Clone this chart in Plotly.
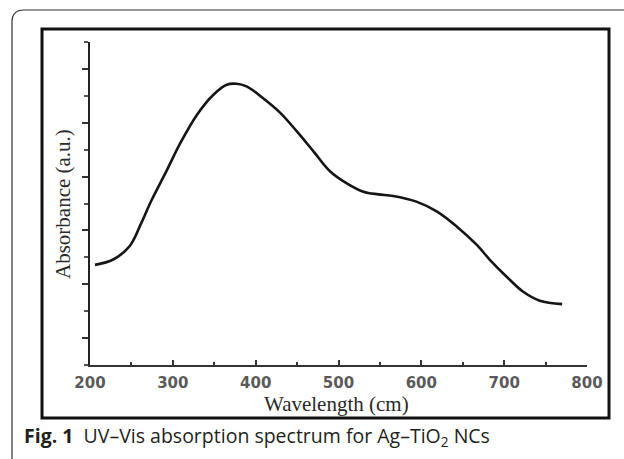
import plotly.graph_objects as go

# UV-Vis absorption spectrum of Ag-TiO2 nanocomposites (arbitrary absorbance units)
wavelength = [206, 228, 248, 262, 274, 293, 309, 329, 349, 365, 377, 389, 409, 430,
              450, 470, 490, 510, 530, 548, 566, 594, 619, 643, 667, 683, 703, 723,
              743, 770]
absorbance = [3.72, 3.92, 4.42, 5.28, 6.10, 7.25, 8.24, 9.29, 10.04, 10.41, 10.45,
              10.35, 9.91, 9.36, 8.67, 7.93, 7.19, 6.75, 6.44, 6.34, 6.28, 6.07,
              5.70, 5.14, 4.46, 3.90, 3.28, 2.72, 2.39, 2.26]

x_ticks = [200, 300, 400, 500, 600, 700, 800]

W, H = 624, 459
L, R, T, B = 90, 37, 42, 94
pw, ph = W - L - R, H - T - B


def px(x):
    return (x - L) / pw


def py(y):
    return (H - B - y) / ph


fig = go.Figure()
fig.add_trace(go.Scatter(
    x=wavelength, y=absorbance, mode="lines",
    line=dict(color="#151515", width=2.6, shape="spline", smoothing=1.0),
    hoverinfo="skip", showlegend=False,
))

fig.update_layout(
    width=W, height=H,
    margin=dict(l=L, r=R, t=T, b=B),
    paper_bgcolor="white", plot_bgcolor="white",
    xaxis=dict(
        range=[200, 800], tickvals=x_ticks, ticktext=[str(v) for v in x_ticks],
        showgrid=False, zeroline=False,
        showline=True, linecolor="#333", linewidth=2,
        ticks="inside", ticklen=5, tickwidth=2, tickcolor="#333",
        minor=dict(dtick=50, tick0=250, ticks="inside", ticklen=3, tickwidth=2,
                   tickcolor="#333", showgrid=False),
        tickfont=dict(family="DejaVu Sans", size=15, color="#5a5a5a", weight="bold"),
        ticklabelstandoff=3,
    ),
    yaxis=dict(
        range=[0, 12], tick0=1, dtick=2, showticklabels=False,
        showgrid=False, zeroline=False,
        showline=True, linecolor="#222", linewidth=2,
        ticks="outside", ticklen=6, tickwidth=2, tickcolor="#333",
        minor=dict(dtick=1, tick0=0, ticks="outside", ticklen=4, tickwidth=2,
                   tickcolor="#555", showgrid=False),
    ),
    shapes=[
        # inner figure frame
        dict(type="rect", xref="paper", yref="paper",
             x0=px(42), x1=px(609), y0=py(418), y1=py(29),
             line=dict(color="#111", width=3), fillcolor="rgba(0,0,0,0)"),
        # outer rounded panel border
        dict(type="path", xref="paper", yref="paper",
             path=(f"M {px(12)},{py(470)} L {px(12)},{py(22)} "
                   f"Q {px(12)},{py(10)} {px(24)},{py(10)} L {px(640)},{py(10)}"),
             line=dict(color="#333", width=1.2)),
    ],
    annotations=[
        dict(text="Wavelength (cm)", xref="paper", yref="paper",
             x=px(336), y=py(404), xanchor="center", yanchor="middle",
             showarrow=False,
             font=dict(family="Liberation Serif", size=21, color="#2a2a2a")),
        dict(text="Absorbance (a.u.)", xref="paper", yref="paper",
             x=px(63), y=py(204), xanchor="center", yanchor="middle",
             textangle=-90, showarrow=False,
             font=dict(family="Liberation Serif", size=21, color="#2a2a2a")),
        dict(text="<b>Fig. 1</b>  UV\u2013Vis absorption spectrum for Ag\u2013TiO<sub>2</sub> NCs",
             xref="paper", yref="paper", x=px(22), y=py(437),
             xanchor="left", yanchor="middle", showarrow=False,
             font=dict(family="Open Sans", size=19.5, color="#231f20")),
    ],
)

fig.write_html("out.html")
